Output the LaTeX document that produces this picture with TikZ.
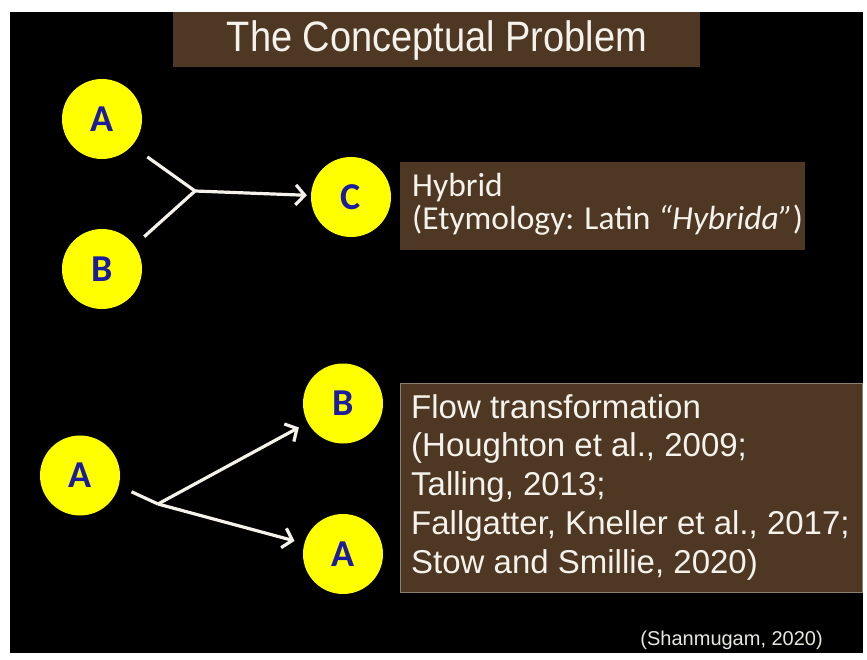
\documentclass[tikz,border=0pt]{standalone}
\usepackage{fontspec}
\setmainfont{Liberation Sans}
\newfontfamily\calibrifont{Carlito}
\usetikzlibrary{arrows.meta}

\definecolor{panelbrown}{RGB}{78,56,36}
\definecolor{framegrey}{RGB}{140,128,112}
\definecolor{discyellow}{RGB}{255,255,0}
\definecolor{letterblue}{RGB}{28,28,160}
\definecolor{paper}{RGB}{244,242,234}

\tikzset{
  disc/.style={circle, fill=discyellow, minimum size=80pt, inner sep=0pt,
    text=letterblue, font=\calibrifont\bfseries\fontsize{38}{38}\selectfont},
  flowline/.style={draw=paper, line width=3.2pt},
  flowarrow/.style={flowline, -{Straight Barb[length=9pt,width=20pt]}},
  panel/.style={fill=panelbrown},
  paneltext/.style={text=paper, anchor=base west, inner sep=0pt, align=left}
}

\begin{document}
\begin{tikzpicture}[x=1pt,y=-1pt]
  \useasboundingbox (0,0) rectangle (867,660);
  \fill[white] (0,0) rectangle (867,660);
  \fill[black] (10,12) rectangle (863,653);

  % title banner
  \fill[panel] (173,12) rectangle (700,67);
  \node[text=paper, font=\fontsize{38}{38}\selectfont] (title) at (437,40)
    {\scalebox{1}[1.12]{The Conceptual Problem}};

  % upper scheme: two parents merge into one
  \node[disc] (a1) at (102,119) {A};
  \node[disc] (b1) at (102,269) {B};
  \node[disc] (c1) at (351,197) {C};
  \coordinate (j1) at (195,191);
  \draw[flowline, shorten <=19pt] (a1.-42) -- (j1);
  \draw[flowline, shorten <=13pt] (b1.36) -- (j1);
  \draw[flowarrow, shorten >=4pt] (j1) -- (c1);

  \fill[panel] (400,162) rectangle (805,250);
  % base anchor of a multi-line node sits on its last line
  \node[paneltext, font=\calibrifont\fontsize{33.5}{33}\selectfont] (hybrid) at (412,230)
    {Hybrid\\(Etymology: Latin \textit{“Hybrida”})};

  % lower scheme: one flow splits in two
  \node[disc] (a2) at (80,475.5) {A};
  \node[disc] (b2) at (343,403.5) {B};
  \node[disc] (a3) at (343,554) {A};
  \coordinate (j2) at (158,504);
  \draw[flowline, shorten <=14pt] (a2.-15) -- (j2);
  \draw[flowarrow, shorten >=10pt] (j2) -- (b2);
  \draw[flowarrow, shorten >=10pt] (j2) -- (a3);

  \filldraw[panel, draw=framegrey, line width=1pt] (400,383) rectangle (862,592);
  \node[paneltext, font=\fontsize{33}{38.75}\selectfont] (flow) at (411,573)
    {Flow transformation\\(Houghton et al., 2009;\\Talling, 2013;\\Fallgatter, Kneller et al., 2017;\\Stow and Smillie, 2020)};

  \node[text=paper!90!gray, anchor=base east, inner sep=0pt, font=\fontsize{20}{20}\selectfont] (source) at (823,645)
    {(Shanmugam, 2020)};
\end{tikzpicture}
\end{document}
